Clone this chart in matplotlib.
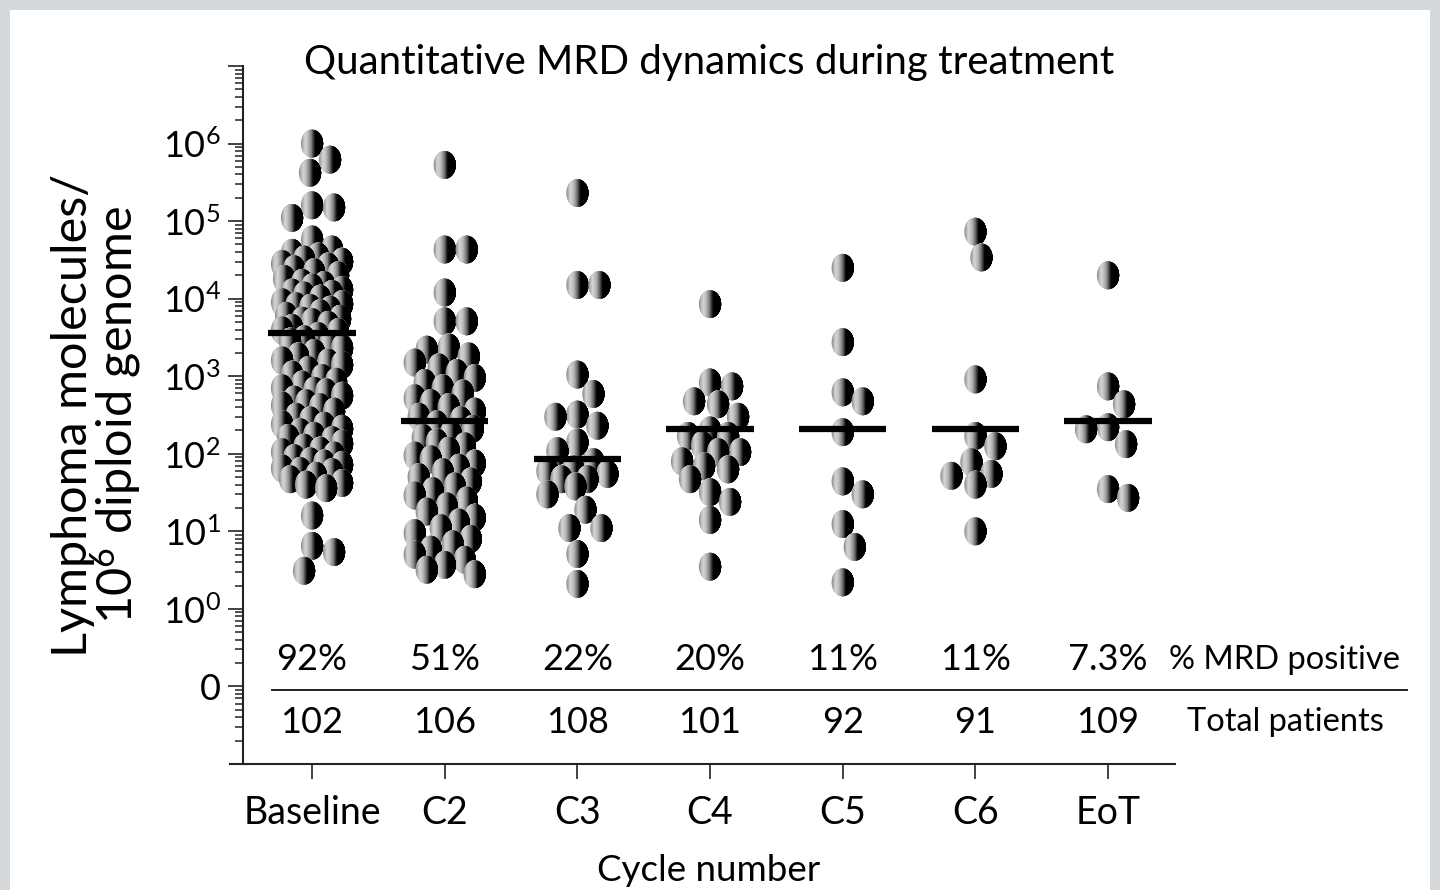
import numpy as np
import matplotlib
matplotlib.use("Agg")
import matplotlib.pyplot as plt
from matplotlib.collections import PathCollection
from matplotlib.path import Path
from matplotlib.patches import Rectangle
from matplotlib.ticker import LogLocator, NullFormatter
from matplotlib.transforms import Affine2D, blended_transform_factory

plt.rcParams['font.family'] = ['Lato', 'DejaVu Sans']

cycles = ['Baseline', 'C2', 'C3', 'C4', 'C5', 'C6', 'EoT']
pct_positive = ['92%', '51%', '22%', '20%', '11%', '11%', '7.3%']
total_patients = [102, 106, 108, 101, 92, 91, 109]
medians = [3600, 263, 85, 207, 207, 207, 263]

# lymphoma molecules per 10^6 diploid genomes, MRD positive samples only
mrd_baseline = [1.0e6, 6.2e5, 4.2e5, 1.6e5, 1.5e5, 1.1e5, 5.8e4, 4.3e4, 3.9e4,
                3.5e4, 3.2e4, 3.0e4, 2.8e4, 2.6e4, 2.4e4, 2.2e4, 2.0e4, 1.8e4,
                1.6e4, 1.5e4, 1.4e4, 1.3e4, 1.2e4, 1.15e4, 1.1e4, 1.0e4,
                9.0e3, 8.5e3, 8.0e3, 7.6e3, 7.2e3, 6.5e3, 6.0e3, 5.5e3, 5.2e3,
                5.0e3, 4.6e3, 4.2e3, 3.9e3, 3.7e3,
                3.3e3, 3.0e3, 2.8e3, 2.6e3, 2.3e3, 2.0e3, 1.8e3, 1.6e3, 1.5e3,
                1.4e3, 1.2e3, 1.05e3,
                950, 850, 780, 700, 650, 620, 560, 500, 450, 420, 400, 350,
                300, 270, 240, 230, 210, 190, 170, 160, 150, 135, 120, 110, 105,
                95, 88, 80, 75, 72, 65, 60, 58, 52, 47, 42, 40, 36,
                16, 6.5, 5.4, 3.1]
mrd_c2 = [5.3e5, 4.3e4, 4.3e4, 1.2e4, 5100, 5100, 2350, 2200,
          1800, 1500, 1300, 1100, 950, 820, 700, 600, 520, 450, 400, 350,
          300, 270, 240, 210, 180, 160, 140, 125, 110, 95, 85, 75, 66, 58,
          50, 44, 38, 33, 29, 25, 21, 18, 15, 13, 11, 9.5, 8, 6.8, 5.8, 5,
          4.3, 3.7, 3.2, 2.8]
mrd_c3 = [2.3e5, 1.5e4, 1.5e4, 1050, 590, 320, 300, 230, 140, 108, 78,
          63, 60, 55, 47, 47, 38, 30, 19, 11, 11, 5.1, 2.1]
mrd_c4 = [8500, 830, 740, 475, 435, 300, 200, 170, 170, 130, 105, 105,
          80, 69, 63, 47, 32, 24, 14, 3.5]
mrd_c5 = [2.5e4, 2750, 620, 475, 190, 44, 30, 12.4, 6.3, 2.2]
mrd_c6 = [7.3e4, 3.4e4, 910, 170, 125, 78, 55, 52, 40, 10]
mrd_eot = [2.0e4, 740, 435, 220, 207, 133, 35, 27]
mrd_values = [mrd_baseline, mrd_c2, mrd_c3, mrd_c4, mrd_c5, mrd_c6, mrd_eot]

W, H = 1440, 890
fig = plt.figure(figsize=(W / 100, H / 100), dpi=100)
fig.patch.set_facecolor('#d5d9dc')
fig.add_artist(Rectangle((10 / W, 0), 1420 / W, 880 / H, transform=fig.transFigure,
                         facecolor='white', edgecolor='none', zorder=0))

ax = fig.add_axes([243 / W, 126 / H, 932 / W, 698 / H])
ax.patch.set_visible(False)
ax.set_yscale('log')
ax.set_ylim(1e-2, 1e7)
ax.set_xlim(-0.52, 6.505)

# shaded dot: ellipse built from layered right-hand slices
a_pt, b_pt = 8.0, 10.0
n_slices = 18
slice_edges = np.linspace(-a_pt, a_pt, n_slices + 1)[:-1]
slice_t = (slice_edges + a_pt) / (2 * a_pt)
slice_gray = np.interp(slice_t, [0, 0.15, 0.3, 0.45, 0.55, 0.62, 1.0],
                       [0.58, 0.84, 0.74, 0.48, 0.2, 0.0, 0.0])
slice_paths = []
for e in slice_edges:
    th_max = np.arccos(np.clip(e / a_pt, -1, 1))
    th = np.linspace(-th_max, th_max, 40)
    verts = np.column_stack([a_pt * np.cos(th), b_pt * np.sin(th)])
    verts = np.vstack([verts, verts[:1]])
    codes = [Path.MOVETO] + [Path.LINETO] * (len(th) - 1) + [Path.CLOSEPOLY]
    slice_paths.append(Path(verts, codes))
slice_colors = [(g, g, g) for g in slice_gray]

px_per_pt = fig.dpi / 72
a_px, b_px = a_pt * px_per_pt, b_pt * px_per_pt
x_unit_px = ax.transData.transform((1, 1))[0] - ax.transData.transform((0, 1))[0]


def swarm_offsets(col, vals, half_width=30):
    pts = ax.transData.transform(np.column_stack([np.full(len(vals), col), vals]))
    ys = pts[:, 1]
    cands = [0.0]
    for k in range(1, half_width // 2 + 1):
        cands += [2.0 * k, -2.0 * k]
    placed = []
    xs = np.zeros(len(vals))
    order = np.argsort(-ys, kind='stable')
    for i in order:
        best, best_d = 0.0, -1.0
        for dx in cands:
            if placed:
                p = np.array(placed)
                d = np.min(np.hypot((p[:, 0] - dx) / (2 * a_px),
                                    (p[:, 1] - ys[i]) / (2 * b_px)))
            else:
                d = 10.0
            if d >= 0.95:
                best = dx
                break
            if d > best_d:
                best, best_d = dx, d
        placed.append((best, ys[i]))
        xs[i] = best
    return col + xs / x_unit_px, order


all_paths, all_offsets, all_colors = [], [], []
for col, vals in enumerate(mrd_values):
    xs, order = swarm_offsets(col, vals)
    for i in order:
        for p, c in zip(slice_paths, slice_colors):
            all_paths.append(p)
            all_offsets.append((xs[i], vals[i]))
            all_colors.append(c)

dots = PathCollection(all_paths, offsets=all_offsets, offset_transform=ax.transData,
                      facecolors=all_colors, edgecolors='none', zorder=3)
dots.set_transform(Affine2D().scale(1 / 72) + fig.dpi_scale_trans)
ax.add_collection(dots, autolim=False)

x = np.arange(len(cycles))
ax.hlines(medians, x - 0.33, x + 0.33, color='black', lw=4.5, zorder=5)

# axes styling
for side in ['top', 'right']:
    ax.spines[side].set_visible(False)
for side in ['left', 'bottom']:
    ax.spines[side].set_linewidth(1.5)
    ax.spines[side].set_color('#222222')
ax.plot([-0.014, 0], [0, 0], transform=ax.transAxes, clip_on=False,
        color='#222222', lw=1.5)

ax.set_yticks([10.0 ** k for k in range(-1, 8)])
ax.set_yticklabels(['0'] + [r'$\mathregular{10^{%d}}$' % k for k in range(7)] + [''])
ax.yaxis.set_minor_locator(LogLocator(base=10, subs=np.arange(2, 10), numticks=100))
ax.yaxis.set_minor_formatter(NullFormatter())
ax.tick_params(axis='y', which='major', length=11, width=1.2, labelsize=26,
               pad=5, color='#222222')
ax.tick_params(axis='y', which='minor', length=6, width=1.1, color='#222222')

ax.set_xticks(x)
ax.set_xticklabels(cycles)
ax.tick_params(axis='x', which='major', length=11, width=1.2, labelsize=27,
               pad=11, color='#222222')
ax.tick_params(axis='x', which='minor', bottom=False)
ax.set_xlabel('Cycle number', fontsize=26.5, labelpad=17)
ax.set_ylabel('Lymphoma molecules/\n' + r'$\mathregular{10^{6}}$ diploid genome',
              fontsize=35, labelpad=14, linespacing=0.85)
ax.set_title('Quantitative MRD dynamics during treatment', fontsize=29, pad=-6)

# summary rows under the dots
tr = blended_transform_factory(ax.transData, ax.transAxes)
for i in range(len(cycles)):
    ax.text(x[i], 0.149, pct_positive[i], transform=tr, ha='center', va='center',
            fontsize=26)
    ax.text(x[i], 0.060, str(total_patients[i]), transform=tr, ha='center',
            va='center', fontsize=26)
ax.text(1.118, 0.149, '% MRD positive', transform=ax.transAxes, ha='center',
        va='center', fontsize=23.5)
ax.text(1.118, 0.060, 'Total patients', transform=ax.transAxes, ha='center',
        va='center', fontsize=23.5)
ax.plot([0.031, 1.249], [0.106, 0.106], transform=ax.transAxes, clip_on=False,
        color='#222222', lw=1.4)

fig.savefig('out.png', dpi=100, facecolor=fig.get_facecolor())
